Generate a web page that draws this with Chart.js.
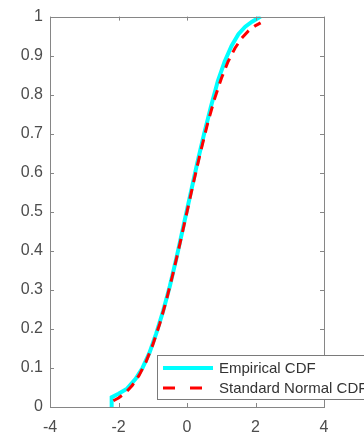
<!DOCTYPE html>
<html>
<head>
<meta charset="utf-8">
<script src="https://cdn.jsdelivr.net/npm/chart.js@4/dist/chart.umd.min.js"></script>
<style>
  html, body { margin: 0; padding: 0; background: #fff; overflow: hidden; }
</style>
</head>
<body>
<canvas id="cdfChart" width="364" height="434"></canvas>
<script>
// empirical CDF
const empX = [-2.2, -2.2, -2.0, -1.75, -1.5, -1.3, -1.1, -0.9, -0.7, -0.5, -0.3, -0.1, 0.1, 0.3, 0.5, 0.7, 0.9, 1.1, 1.3, 1.5, 1.7, 1.9, 2.15]
const empY = [0, 0.025, 0.034, 0.047, 0.072, 0.1, 0.138, 0.188, 0.245, 0.31, 0.385, 0.465, 0.545, 0.625, 0.70, 0.77, 0.835, 0.885, 0.925, 0.955, 0.974, 0.987, 1.0]

// standard normal CDF
const normX = [-2.15, -2.0, -1.8, -1.6, -1.4, -1.2, -1.0, -0.8, -0.6, -0.4, -0.2, 0, 0.2, 0.4, 0.6, 0.8, 1.0, 1.2, 1.4, 1.6, 1.8, 2.0, 2.15]
const normY = [0.016, 0.023, 0.036, 0.055, 0.081, 0.115, 0.159, 0.212, 0.274, 0.345, 0.421, 0.5, 0.579, 0.655, 0.726, 0.788, 0.841, 0.885, 0.919, 0.945, 0.964, 0.977, 0.984]

const seriesNames = ["Empirical CDF", "Standard Normal CDF"]
const xTicks = [-4, -2, 0, 2, 4]
const yTicks = [0, 0.1, 0.2, 0.3, 0.4, 0.5, 0.6, 0.7, 0.8, 0.9, 1]

function toPoints(xs, ys) {
    let pts = []
    for (let i in xs) {
        pts.push({ x: xs[i], y: ys[i] })
    }
    return pts
}

const axisColor = '#868686'
const labelColor = '#4d4d4d'

// box, inward ticks on all sides, and the legend box
const boxPlugin = {
    id: 'boxPlugin',
    afterDraw(chart) {
        const ctx = chart.ctx
        const a = chart.chartArea
        const xs = chart.scales.x
        const ys = chart.scales.y
        ctx.save()
        ctx.strokeStyle = axisColor
        ctx.lineWidth = 1
        ctx.strokeRect(Math.round(a.left) + 0.5, Math.round(a.top) + 0.5,
            Math.round(a.right - a.left), Math.round(a.bottom - a.top))
        const tl = 4
        ctx.beginPath()
        for (let v of xTicks) {
            const px = Math.round(xs.getPixelForValue(v)) + 0.5
            ctx.moveTo(px, a.bottom); ctx.lineTo(px, a.bottom - tl)
            ctx.moveTo(px, a.top); ctx.lineTo(px, a.top + tl)
        }
        for (let v of yTicks) {
            const py = Math.round(ys.getPixelForValue(v)) + 0.5
            ctx.moveTo(a.left, py); ctx.lineTo(a.left + tl, py)
            ctx.moveTo(a.right, py); ctx.lineTo(a.right - tl, py)
        }
        ctx.stroke()

        // legend
        const lx = 157.5, ly = 355.5, lw = 250, lh = 44
        ctx.fillStyle = '#fff'
        ctx.fillRect(lx, ly, lw, lh)
        ctx.strokeStyle = '#7a7a7a'
        ctx.strokeRect(lx, ly, lw, lh)
        const rows = [368, 388]
        chart.data.datasets.forEach((ds, i) => {
            ctx.beginPath()
            ctx.strokeStyle = ds.borderColor
            ctx.lineWidth = ds.borderWidth
            ctx.setLineDash(ds.borderDash ? [12, 15] : [])
            ctx.moveTo(163, rows[i]); ctx.lineTo(213, rows[i])
            ctx.stroke()
            ctx.setLineDash([])
            ctx.fillStyle = '#333'
            ctx.font = '15px "Liberation Sans", Arial, sans-serif'
            ctx.textBaseline = 'middle'
            ctx.textAlign = 'left'
            ctx.fillText(ds.label, 219, rows[i] + 1)
        })
        ctx.restore()
    }
}

const ctx = document.getElementById('cdfChart')

new Chart(ctx, {
    type: 'scatter',
    data: {
        datasets: [{
            label: seriesNames[0],
            data: toPoints(empX, empY),
            showLine: true,
            borderColor: '#00ffff',
            borderWidth: 4,
            pointRadius: 0,
            tension: 0,
            order: 1
        }, {
            label: seriesNames[1],
            data: toPoints(normX, normY),
            showLine: true,
            borderColor: '#ff0000',
            borderWidth: 3,
            borderDash: [10, 7],
            pointRadius: 0,
            tension: 0,
            order: 0
        }]
    },
    options: {
        responsive: false,
        animation: false,
        devicePixelRatio: 1,
        layout: { padding: { top: 14, right: 40, left: 0, bottom: 0 } },
        plugins: {
            legend: { display: false },
            tooltip: { enabled: false }
        },
        scales: {
            x: {
                type: 'linear',
                min: -4,
                max: 4,
                afterBuildTicks: (scale) => { scale.ticks = xTicks.map(v => ({ value: v })) },
                afterFit: (scale) => { scale.height = 27 },
                grid: { display: false, drawTicks: false },
                border: { display: false },
                ticks: {
                    color: labelColor,
                    padding: 11,
                    callback: (v) => String(v),
                    font: { family: '"Liberation Sans", Arial, sans-serif', size: 16 }
                }
            },
            y: {
                type: 'linear',
                min: 0,
                max: 1,
                afterBuildTicks: (scale) => { scale.ticks = yTicks.map(v => ({ value: v })) },
                afterFit: (scale) => { scale.width = 50 },
                grid: { display: false, drawTicks: false },
                border: { display: false },
                ticks: {
                    color: labelColor,
                    padding: 7,
                    callback: (v) => String(Math.round(v * 10) / 10),
                    font: { family: '"Liberation Sans", Arial, sans-serif', size: 16 }
                }
            }
        }
    },
    plugins: [boxPlugin]
})
</script>
</body>
</html>
